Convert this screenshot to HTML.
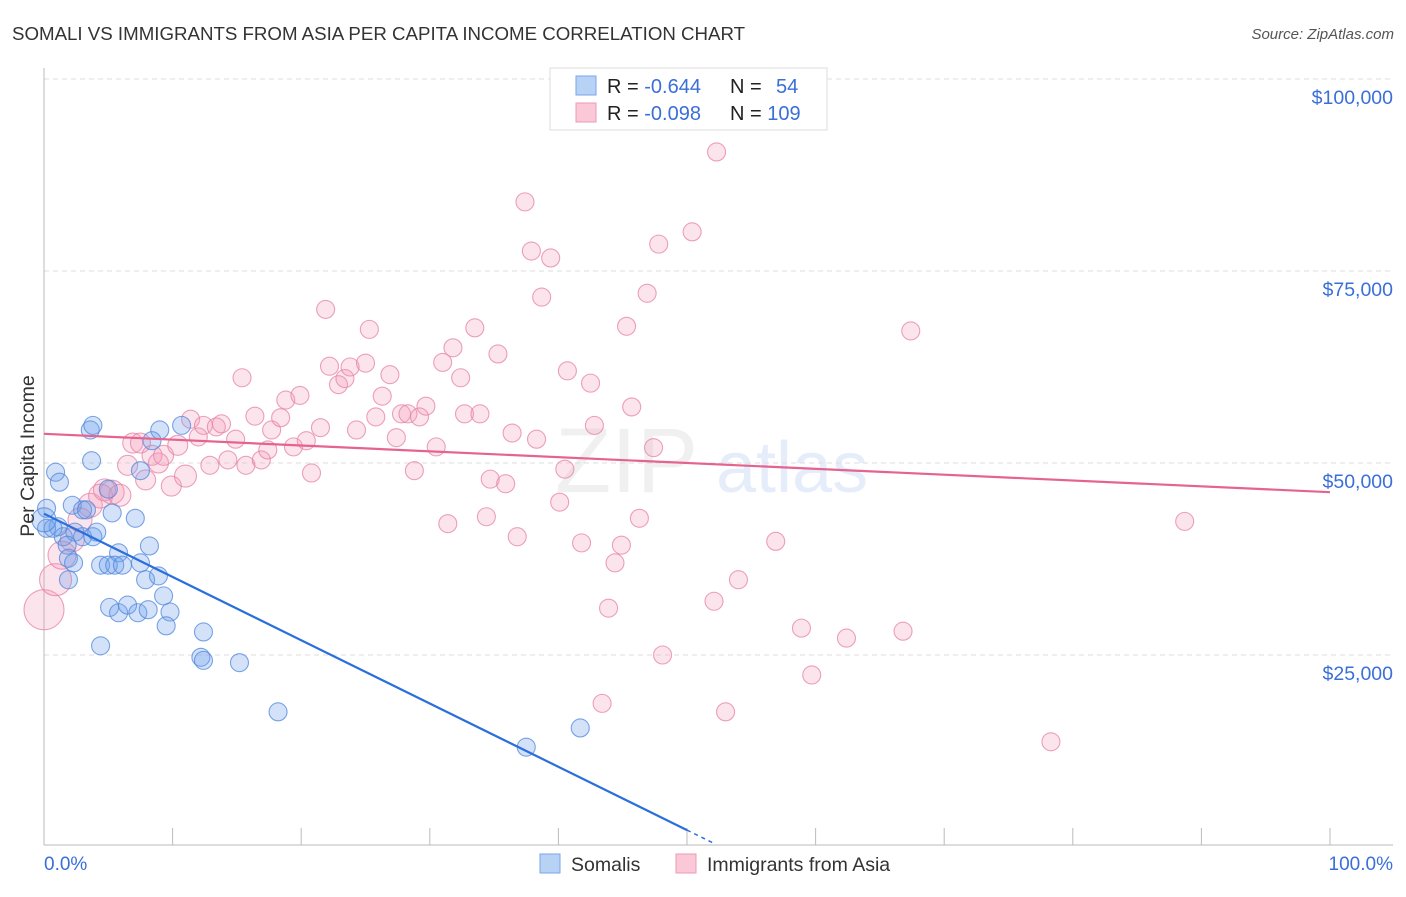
<!DOCTYPE html>
<html><head><meta charset="utf-8"><style>
body{margin:0;background:#fff;font-family:"Liberation Sans",sans-serif;}
svg text{font-family:"Liberation Sans",sans-serif;}
</style></head><body>
<svg id="chart" width="1406" height="892" xmlns="http://www.w3.org/2000/svg">
<text x="12" y="40" font-size="18.7" fill="#333">SOMALI VS IMMIGRANTS FROM ASIA PER CAPITA INCOME CORRELATION CHART</text>
<text x="1394" y="39" font-size="15" fill="#555" font-style="italic" text-anchor="end">Source: ZipAtlas.com</text>
<g opacity="0.12">
<text x="555" y="492" font-size="92" font-family="Liberation Serif" fill="#888">ZIP</text>
<text x="716" y="492" font-size="72" fill="#3a6fd8">atlas</text>
</g>
<g id="grid"></g>
<g id="axes"></g>
<g id="pinkPts"></g>
<g id="bluePts"></g>
<g id="lines"></g>
<text x="34" y="456" font-size="19.5" fill="#333" transform="rotate(-90 34 456)" text-anchor="middle">Per Capita Income</text>
<text x="44" y="870" font-size="19" fill="#3a6fd8">0.0%</text>
<text x="1393" y="870" font-size="19" fill="#3a6fd8" text-anchor="end">100.0%</text>
<g>
<rect x="550" y="68" width="277" height="62" fill="#fff" stroke="#ddd"/>
<rect x="576" y="76" width="20" height="19" fill="#b8d2f5" stroke="#7aa6e6"/>
<rect x="576" y="103" width="20" height="19" fill="#fac8d7" stroke="#ee9ab4"/>
<text x="607" y="93" font-size="20" fill="#222">R = <tspan fill="#3a6fd8">-0.644</tspan></text>
<text x="730" y="93" font-size="20" fill="#222">N = <tspan fill="#3a6fd8" x="776">54</tspan></text>
<text x="607" y="120" font-size="20" fill="#222">R = <tspan fill="#3a6fd8">-0.098</tspan></text>
<text x="730" y="120" font-size="20" fill="#222">N = <tspan fill="#3a6fd8">109</tspan></text>
</g>
<g>
<rect x="540" y="854" width="20" height="19" fill="#b8d2f5" stroke="#7aa6e6"/>
<text x="571" y="871" font-size="19.5" fill="#333">Somalis</text>
<rect x="676" y="854" width="20" height="19" fill="#fac8d7" stroke="#ee9ab4"/>
<text x="707" y="871" font-size="19.5" fill="#333">Immigrants from Asia</text>
</g>
</svg>
<script>
const yTicks=[25000,50000,75000,100000];
const yTickLabels=["$25,000","$50,000","$75,000","$100,000"];
const xTicks=[0,10,20,30,40,50,60,70,80,90,100];
const blueX=[0.9,1.2,0.2,1.1,2.2,3.6,3.8,3.7,1.5,2.4,3.0,3.3,3.0,3.8,4.1,1.8,1.9,2.3,1.9,5.0,5.8,7.1,4.4,5.0,5.5,6.1,7.5,8.2,7.9,8.9,5.1,5.8,6.5,7.3,8.1,9.3,9.8,9.5,4.4,12.4,12.2,12.4,15.2,7.5,9.0,10.7,8.4,18.2,37.5,41.7,0.2,0.7,0.0,5.3];
const blueY=[48.8,47.5,44.1,41.7,44.5,54.3,54.9,50.3,40.4,41.0,43.9,43.9,40.4,40.4,41.0,39.3,37.6,37.0,34.8,46.6,38.3,42.8,36.7,36.7,36.7,36.7,37.0,39.2,34.8,35.3,31.2,30.5,31.5,30.5,30.9,32.7,30.6,28.8,26.2,28.0,24.7,24.3,24.0,49.0,54.3,54.9,52.9,17.6,13.0,15.5,41.5,41.5,42.6,43.5];
const pinkX=[0,0.9,1.4,2.2,2.8,3.6,4.4,5.3,5.9,4.7,6.5,6.9,7.5,7.9,8.4,8.9,9.3,9.9,10.4,11.0,11.4,12.0,12.4,12.9,13.4,13.8,14.3,14.9,15.4,15.7,16.4,16.9,17.4,17.7,18.4,18.8,19.4,19.9,20.4,20.8,21.5,21.9,22.2,22.9,23.4,23.8,24.3,25.0,25.3,25.8,26.3,26.9,27.4,27.8,28.3,28.8,29.2,29.7,30.5,31.0,31.4,31.8,32.4,32.7,33.5,33.9,34.4,34.7,35.3,35.9,36.4,36.8,37.4,37.9,38.3,38.7,39.4,40.1,40.5,40.7,41.8,42.5,42.8,43.4,43.9,44.4,44.9,45.3,45.7,46.3,46.9,47.4,47.8,48.1,50.4,52.1,52.3,53.0,54.0,56.9,58.9,59.7,62.4,66.8,67.4,78.3,88.7];
const pinkY=[30.9,34.8,38.0,40.0,42.6,44.5,45.7,46.2,45.8,46.5,49.7,52.6,52.6,47.8,51.0,50.0,51.0,47.0,52.3,48.3,55.7,53.4,54.9,49.7,54.7,55.1,50.4,53.1,61.1,49.7,56.1,50.4,51.7,54.3,55.9,58.2,52.1,58.8,52.9,48.7,54.6,70.0,62.6,60.2,61.0,62.5,54.3,63.0,67.4,56.0,58.7,61.5,53.3,56.4,56.4,49.0,56.0,57.4,52.1,63.1,42.1,65.0,61.1,56.4,67.6,56.4,43.0,47.9,64.2,47.3,53.9,40.4,84.0,77.6,53.1,71.6,76.7,44.9,49.2,62.0,39.6,60.4,54.9,18.7,31.1,37.0,39.3,67.8,57.3,42.8,72.1,52.0,78.5,25.0,80.1,32.0,90.5,17.6,34.8,39.8,28.5,22.4,27.2,28.1,67.2,13.7,42.4];
const pinkSize=[20,16,14,12,12,12,12,12,11,11,10,10,10,10,10,10,10,10,10,11];
const blueTrend=[43.4,2.2];
const pinkTrend=[53.8,46.2];
const NS="http://www.w3.org/2000/svg";
const X=v=>44+v*12.86;
const Y=v=>847-v/25*192;
function mk(tag,attrs,parent){const e=document.createElementNS(NS,tag);for(const k in attrs)e.setAttribute(k,attrs[k]);parent.appendChild(e);return e;}
const grid=document.getElementById('grid'),axes=document.getElementById('axes');
yTicks.forEach((t,i)=>{
 const y=Y(t/1000);
 const l=mk('line',{x1:44,x2:1393,y1:y,y2:y,stroke:'#ddd','stroke-dasharray':'5,4'},grid);
 
 
 const tx=mk('text',{x:1393,y:y+25,'font-size':19.5,fill:'#3a6fd8','text-anchor':'end'},grid);
 tx.textContent=yTickLabels[i];
 
 
});
const ya=mk('line',{x1:44,x2:44,y1:68,y2:845,stroke:'#bbb'},axes);


const xa=mk('line',{x1:44,x2:1393,y1:845,y2:845,stroke:'#bbb'},axes);


xTicks.forEach(t=>{
 const tk=mk('line',{x1:X(t),x2:X(t),y1:828,y2:845,stroke:'#bbb'},axes);
 
 
});
const pg=document.getElementById('pinkPts');
pinkX.forEach((v,i)=>{
 const c=mk('circle',{cx:X(v),cy:Y(pinkY[i]),r:i<pinkSize.length?pinkSize[i]:9,fill:'rgba(244,150,180,0.26)',stroke:'rgba(230,130,165,0.75)','stroke-width':1.1},pg);
 
 
});
const bg=document.getElementById('bluePts');
blueX.forEach((v,i)=>{
 const c=mk('circle',{cx:X(v),cy:Y(blueY[i]),r:i==52?12:9,fill:'rgba(110,160,235,0.3)',stroke:'rgba(80,135,220,0.75)','stroke-width':1.1},bg);
 
 
});
const lg=document.getElementById('lines');
const bl=mk('line',{x1:X(0),y1:Y(blueTrend[0]),x2:X(50),y2:Y(blueTrend[1]),stroke:'#2a6fdc','stroke-width':2.2},lg);


const slope=(blueTrend[1]-blueTrend[0])/50;
const bd=mk('line',{x1:X(50),y1:Y(blueTrend[1]),x2:X(52),y2:Y(blueTrend[1]+slope*2),stroke:'#2a6fdc','stroke-width':1.5,'stroke-dasharray':'4,4'},lg);


const pl=mk('line',{x1:X(0),y1:Y(pinkTrend[0]),x2:X(100),y2:Y(pinkTrend[1]),stroke:'#e5638e','stroke-width':2.2},lg);


</script>
</body></html>
